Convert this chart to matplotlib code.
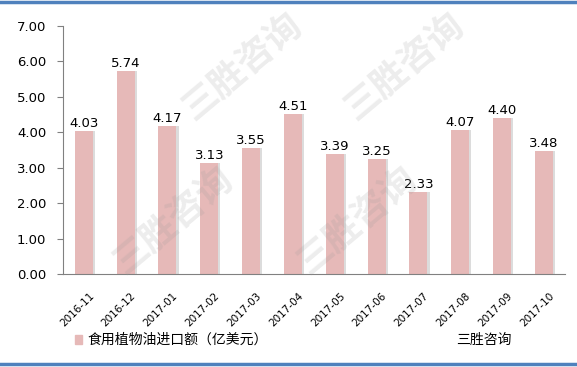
import matplotlib
matplotlib.use("Agg")
import matplotlib.pyplot as plt
import numpy as np

plt.rcParams['font.family'] = ['Noto Sans CJK SC', 'DejaVu Sans']

months = ["2016-11", "2016-12", "2017-01", "2017-02", "2017-03", "2017-04",
          "2017-05", "2017-06", "2017-07", "2017-08", "2017-09", "2017-10"]
values = [4.03, 5.74, 4.17, 3.13, 3.55, 4.51, 3.39, 3.25, 2.33, 4.07, 4.40, 3.48]
yticks = [0, 1, 2, 3, 4, 5, 6, 7]

fig = plt.figure(figsize=(5.77, 3.67), dpi=100)
ax = fig.add_axes([0.109, 0.253, 0.870, 0.676])

x = np.arange(len(months))
# soft shadow behind bars
ax.bar(x + 0.05, values, 0.43, color="#dcdcdc", zorder=1)
ax.bar(x, values, 0.43, color="#e6b9b8", zorder=2)
for xi, v in zip(x, values):
    ax.text(xi, v + 0.03, f"{v:.2f}", ha="center", va="bottom", fontsize=9.5,
            color="black", family=["DejaVu Sans"], zorder=4)

ax.set_xlim(-0.5, len(months) - 0.5)
ax.set_ylim(0, 7)
ax.set_yticks(yticks)
ax.set_yticklabels([f"{t:.2f}" for t in yticks], fontsize=9.5, family=["DejaVu Sans"])
ax.set_xticks(x + 0.12)
ax.set_xticklabels(months, rotation=45, ha="right", rotation_mode="anchor",
                   fontsize=7.5, family=["DejaVu Sans"])
ax.tick_params(axis="x", length=0, pad=12)
ax.tick_params(axis="y", length=4, color="#808080", pad=8)
for s in ["top", "right"]:
    ax.spines[s].set_visible(False)
ax.spines["left"].set_color("#808080")
ax.spines["bottom"].set_color("#808080")

# watermarks
for wx, wy in [(0.70, 0.82), (0.42, 0.82), (0.30, 0.40), (0.62, 0.40)]:
    fig.text(wx, wy, "三胜咨询", fontsize=26, color="#999999", alpha=0.18,
             rotation=40, ha="center", va="center", zorder=5, weight="bold")

# legend row
fig.patches.append(plt.Rectangle((0.130, 0.062), 0.012, 0.024,
                                 transform=fig.transFigure, color="#e6b9b8"))
fig.text(0.152, 0.074, "食用植物油进口额（亿美元）", fontsize=10, va="center")
fig.text(0.790, 0.074, "三胜咨询", fontsize=10, va="center")

# blue frame lines
fig.add_artist(plt.Line2D([0, 1], [0.995, 0.995], color="#4f81bd", lw=2.5))
fig.add_artist(plt.Line2D([0, 1], [0.008, 0.008], color="#4f81bd", lw=2.5))

fig.savefig("out.png", dpi=100)
